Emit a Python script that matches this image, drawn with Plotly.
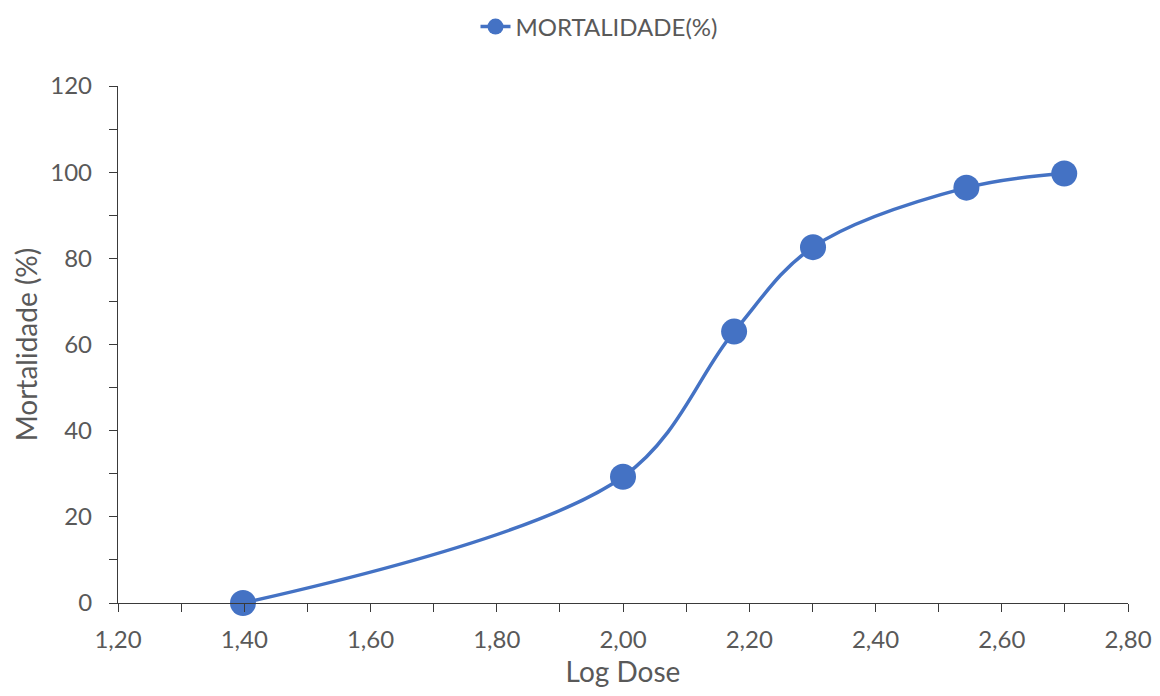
import plotly.graph_objects as go

log_dose = [1.398, 2.000, 2.176, 2.301, 2.544, 2.699]
mortalidade = [0.0, 29.3, 63.0, 82.6, 96.4, 99.7]
x_ticks = [1.2, 1.4, 1.6, 1.8, 2.0, 2.2, 2.4, 2.6, 2.8]
x_tick_labels = ["1,20", "1,40", "1,60", "1,80", "2,00", "2,20", "2,40", "2,60", "2,80"]
y_ticks = [0, 20, 40, 60, 80, 100, 120]

color = "#4472C4"
font_family = "Lato, Open Sans, sans-serif"
text_color = "#595959"
axis_color = "#3a3a3a"

W, H = 1144, 680
fig = go.Figure()
fig.add_trace(go.Scatter(
    x=log_dose, y=mortalidade, mode="lines+markers", name="MORTALIDADE(%)",
    line=dict(color=color, width=3.5, shape="spline", smoothing=1.0),
    marker=dict(color=color, size=26),
    cliponaxis=False,
))

# page body has an 8px margin, so the figure is offset by 8px
fig.update_layout(
    width=W, height=H,
    paper_bgcolor="white", plot_bgcolor="white",
    margin=dict(l=110, r=24, t=78, b=85, autoexpand=False),
    font=dict(family=font_family, color=text_color, size=24),
    showlegend=True,
    legend=dict(orientation="h", x=591 / W, xref="container", xanchor="center",
                y=(H - 19) / H, yref="container", yanchor="middle",
                font=dict(size=24, color=text_color),
                bgcolor="rgba(0,0,0,0)"),
    xaxis=dict(
        range=[1.2, 2.8], tickvals=x_ticks, ticktext=x_tick_labels,
        showgrid=False, zeroline=False, showline=True, linecolor=axis_color, linewidth=1.3,
        ticks="outside", ticklen=8, tickcolor=axis_color, tickwidth=1.3,
        minor=dict(dtick=0.1, tick0=1.2, ticks="outside", ticklen=8, tickcolor=axis_color, tickwidth=1.3, showgrid=False),
        tickfont=dict(size=24, color=text_color),
        ticklabelstandoff=7,
        title=dict(text="Log Dose", font=dict(size=28, color=text_color), standoff=10),
        automargin=False,
    ),
    yaxis=dict(
        range=[0, 120], tickvals=y_ticks,
        showgrid=False, zeroline=False, showline=True, linecolor=axis_color, linewidth=1.3,
        ticks="outside", ticklen=8, tickcolor=axis_color, tickwidth=1.3,
        minor=dict(dtick=10, tick0=0, ticks="outside", ticklen=8, tickcolor=axis_color, tickwidth=1.3, showgrid=False),
        tickfont=dict(size=24, color=text_color),
        ticklabelstandoff=12,
        title=dict(text="Mortalidade (%)", font=dict(size=28, color=text_color), standoff=4),
        automargin=False,
    ),
)

fig.write_html("out.html")
